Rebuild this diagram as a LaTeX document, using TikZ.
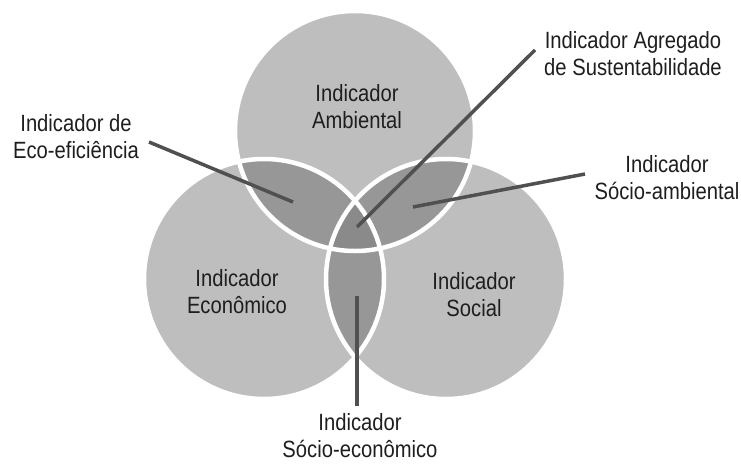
\documentclass[tikz,border=0pt]{standalone}
\usepackage{fontspec}
\setmainfont{Liberation Sans}[FakeStretch=0.86]
\usepackage{tikz}
\usetikzlibrary{calc}

\definecolor{circgray}{HTML}{BEBEBE}
\definecolor{lensgray}{HTML}{979797}
\definecolor{midgray}{HTML}{8A8A8A}
\definecolor{linegray}{HTML}{505050}
\definecolor{txtgray}{HTML}{1E1E1E}

\begin{document}
\begin{tikzpicture}[x=1pt,y=-1pt,
		indtext/.style={align=center, text=txtgray, inner sep=0pt,
			font=\fontsize{23.5}{27}\selectfont},
		leader/.style={draw=linegray, line width=3.5pt}]
		\def\r{120};
		\def\rim{4.5pt};

		\useasboundingbox (0,0) rectangle (741,463);

		\coordinate (amb) at (355,131);
		\coordinate (eco) at (264,279);
		\coordinate (soc) at (446,279);

		\foreach \c in {amb,eco,soc}
			\fill[circgray] (\c) circle (\r);

		\begin{scope}
			\clip (amb) circle (\r);
			\fill[lensgray] (eco) circle (\r);
			\fill[lensgray] (soc) circle (\r);
		\end{scope}
		\begin{scope}
			\clip (eco) circle (\r);
			\fill[lensgray] (soc) circle (\r);
		\end{scope}
		\begin{scope}
			\clip (amb) circle (\r);
			\clip (eco) circle (\r);
			\fill[midgray] (soc) circle (\r);
		\end{scope}

		\foreach \c in {amb,eco,soc}
			\draw[white, line width=\rim] (\c) circle (\r);

		\node[indtext] (ambtext) at (357,107) {Indicador\\Ambiental};
		\node[indtext] (ecotext) at (237,292) {Indicador\\Econômico};
		\node[indtext] (soctext) at (474,294.5) {Indicador\\Social};

		\node[indtext] (ecoefftext) at (76,137) {Indicador de\\Eco-eficiência};
		\node[indtext] (agregtext) at (633,53.5) {Indicador Agregado\\de Sustentabilidade};
		\node[indtext] (socambtext) at (667,177.5) {Indicador\\Sócio-ambiental};
		\node[indtext] (socecontext) at (360,436) {Indicador\\Sócio-econômico};

		\coordinate (ecoeff tail) at (149,142);
		\coordinate (ecoeff tip) at (293,202);
		\coordinate (agreg tail) at (535,50);
		\coordinate (agreg tip) at (357,227);
		\coordinate (socamb tail) at (585,174);
		\coordinate (socamb tip) at (413,207);
		\coordinate (socecon tail) at (357,406);
		\coordinate (socecon tip) at (357,296);

		\foreach \p in {ecoeff,agreg,socamb,socecon}
			\draw[leader] (\p\space tail) -- (\p\space tip);
	\end{tikzpicture}
\end{document}
